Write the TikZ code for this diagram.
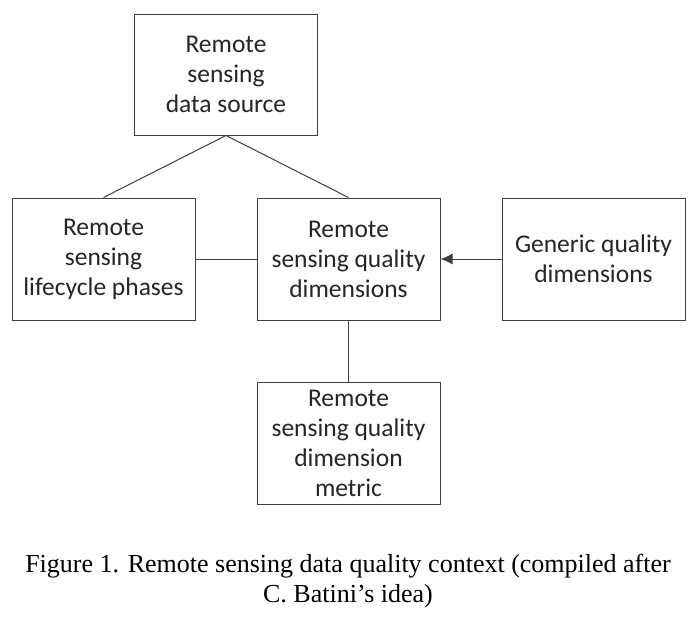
\documentclass[tikz,border=0pt]{standalone}
\usepackage{fontspec}
\setmainfont{Liberation Serif}
\newfontfamily\boxfont{Carlito}
\usetikzlibrary{arrows.meta,calc,positioning}
\definecolor{RsLine}{HTML}{3F3F3F}
\definecolor{RsText}{HTML}{262626}
\tikzset{
  rs box/.style={
    draw=RsLine,
    fill=white,
    text=RsText,
    align=center,
    minimum width=183pt,
    minimum height=122pt,
    inner sep=2pt,
    line width=1pt,
    font=\boxfont\fontsize{25.5}{30}\selectfont
  },
  rs link/.style={draw=RsLine,line width=1pt},
  rs arrow/.style={-{Latex[length=12pt,width=11pt]},draw=RsLine,line width=1pt},
  rs caption/.style={
    text=black,
    align=center,
    inner sep=0pt,
    font=\fontsize{26}{30}\selectfont
  }
}

\begin{document}
\begin{tikzpicture}[x=1pt,y=1pt,node distance=61pt and 61pt]
  \useasboundingbox (0,0) rectangle (696,-616);
  \node[rs box] (quality) at (348.5,-259) {Remote\\sensing quality\\dimensions};
  \node[rs box,left=of quality] (lifecycle) {Remote\\sensing\\lifecycle phases};
  \node[rs box,right=of quality] (generic) {Generic quality\\dimensions};
  \node[rs box,below=of quality] (metric) {Remote\\sensing quality\\dimension\\metric};
  \node[rs box,minimum height=121pt,above=62pt of {$(lifecycle.north)!0.5!(quality.north)$}] (source) {Remote\\sensing\\data source};

  \draw[rs link] (source.south) -- (lifecycle.north);
  \draw[rs link] (source.south) -- (quality.north);
  \draw[rs link] (lifecycle) -- (quality);
  \draw[rs arrow] (generic) -- (quality);
  \draw[rs link] (quality) -- (metric);

  \node[rs caption] (caption) at (348,-581) {Figure 1. Remote sensing data quality context (compiled after\\C. Batini's idea)};
\end{tikzpicture}
\end{document}
